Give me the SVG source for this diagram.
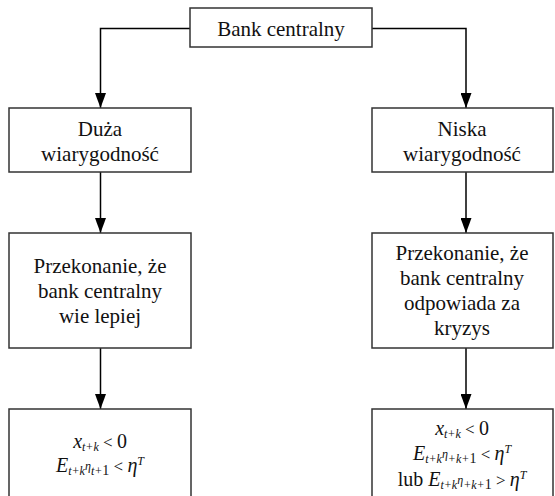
<svg xmlns="http://www.w3.org/2000/svg" width="555" height="496" viewBox="0 0 555 496">
<defs>
<marker id="arr" markerUnits="userSpaceOnUse" markerWidth="15" markerHeight="11" refX="15" refY="5.5" orient="auto" viewBox="0 0 15 11">
<path d="M0,0 L15,5.5 L0,11 Z" fill="#000"/>
</marker>
<style>
.box{fill:#fff;stroke:#333;stroke-width:1.5}
.lbl{font-family:'Liberation Serif','Times New Roman',serif;font-size:21px;fill:#111;text-anchor:middle}
.math{font-family:'Liberation Serif','Times New Roman',serif;font-size:20px;fill:#111;text-anchor:middle}
.it{font-style:italic}
.sub{font-size:12px;font-style:italic}
.one{font-size:14px}
.op{font-size:17px}
.conn{fill:none;stroke:#000;stroke-width:1.5}
</style>
</defs>
<rect width="555" height="496" fill="#fff"/>
<g id="connectors">
<path class="conn" d="M190,28.5 H100.5 V108" marker-end="url(#arr)"/>
<path class="conn" d="M372,28.5 H466 V108" marker-end="url(#arr)"/>
<path class="conn" d="M100.5,172 V233" marker-end="url(#arr)"/>
<path class="conn" d="M466,172 V233" marker-end="url(#arr)"/>
<path class="conn" d="M100.5,348 V409" marker-end="url(#arr)"/>
<path class="conn" d="M466,348 V409" marker-end="url(#arr)"/>
</g>
<g id="bank">
<rect class="box" x="190" y="8" width="182" height="39"/>
<text class="lbl" x="281" y="36">Bank centralny</text>
</g>
<g id="duza">
<rect class="box" x="9" y="108" width="182" height="64"/>
<text class="lbl" x="100" y="136">Duża</text>
<text class="lbl" x="100" y="161">wiarygodność</text>
</g>
<g id="niska">
<rect class="box" x="372" y="108" width="181" height="64"/>
<text class="lbl" x="462" y="136">Niska</text>
<text class="lbl" x="462" y="161">wiarygodność</text>
</g>
<g id="przek-lewy">
<rect class="box" x="9" y="233" width="182" height="115"/>
<text class="lbl" x="100" y="273">Przekonanie, że</text>
<text class="lbl" x="100" y="298">bank centralny</text>
<text class="lbl" x="100" y="323">wie lepiej</text>
</g>
<g id="przek-prawy">
<rect class="box" x="372" y="233" width="181" height="115"/>
<text class="lbl" x="462" y="260">Przekonanie, że</text>
<text class="lbl" x="462" y="285">bank centralny</text>
<text class="lbl" x="462" y="310">odpowiada za</text>
<text class="lbl" x="462" y="335">kryzys</text>
</g>
<g id="wynik-lewy">
<rect class="box" x="9" y="409" width="182" height="100"/>
<text class="math" x="100" y="448"><tspan class="it">x</tspan><tspan class="sub" dy="3">t+k</tspan><tspan class="op" dy="-3"> &lt; </tspan>0</text>
<text class="math" x="100" y="472"><tspan class="it">E</tspan><tspan class="sub" dy="3">t+k</tspan><tspan class="sub" dy="-5">η</tspan><tspan class="sub" dy="5">t+</tspan><tspan class="one">1</tspan><tspan class="op" dy="-3"> &lt; </tspan><tspan class="it">η</tspan><tspan class="sub" dy="-7">T</tspan></text>
</g>
<g id="wynik-prawy">
<rect class="box" x="372" y="409" width="181" height="100"/>
<text class="math" x="462" y="435"><tspan class="it">x</tspan><tspan class="sub" dy="3">t+k</tspan><tspan class="op" dy="-3"> &lt; </tspan>0</text>
<text class="math" x="462" y="460"><tspan class="it">E</tspan><tspan class="sub" dy="3">t+k</tspan><tspan class="sub" dy="-5">η</tspan><tspan class="sub" dy="5">+k+</tspan><tspan class="one">1</tspan><tspan class="op" dy="-3"> &lt; </tspan><tspan class="it">η</tspan><tspan class="sub" dy="-7">T</tspan></text>
<text class="math" x="462" y="486">lub <tspan class="it">E</tspan><tspan class="sub" dy="3">t+k</tspan><tspan class="sub" dy="-5">η</tspan><tspan class="sub" dy="5">+k+</tspan><tspan class="one">1</tspan><tspan class="op" dy="-3"> &gt; </tspan><tspan class="it">η</tspan><tspan class="sub" dy="-7">T</tspan></text>
</g>
</svg>
